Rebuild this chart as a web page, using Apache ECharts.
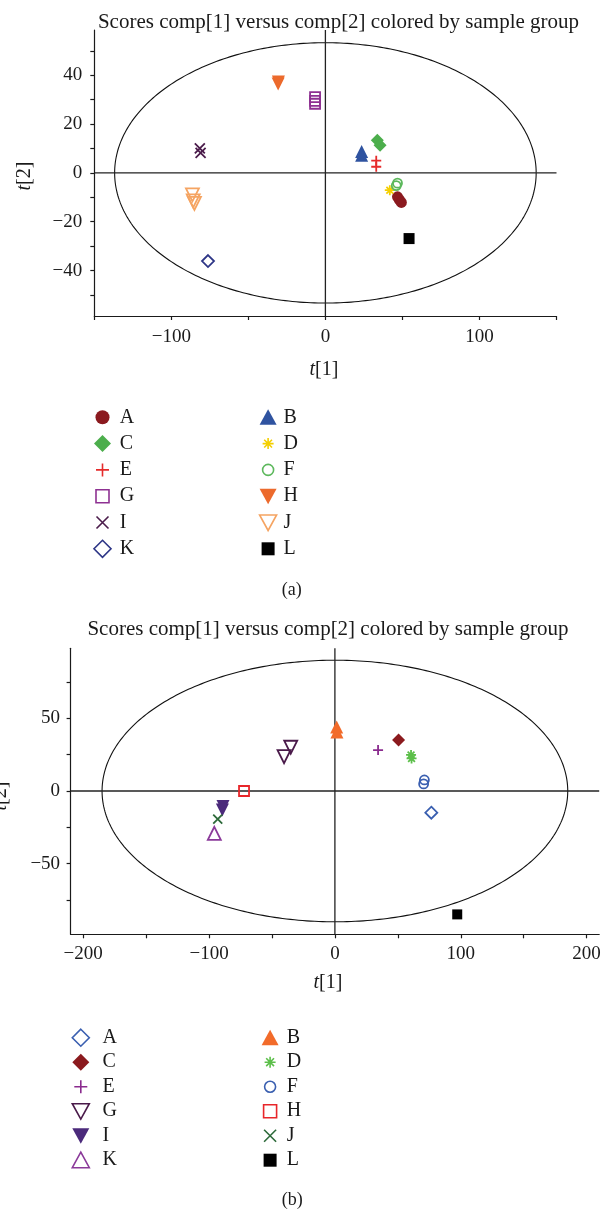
<!DOCTYPE html>
<html><head><meta charset="utf-8">
<script src="https://cdn.jsdelivr.net/npm/echarts@6/dist/echarts.min.js"></script>
<style>
html,body{margin:0;padding:0;background:#fff;width:605px;height:1211px;overflow:hidden;}
#ca{position:absolute;left:0;top:0;width:605px;height:605px;}
#cb{position:absolute;left:0;top:605px;width:605px;height:606px;}
</style>
</head><body>
<div id="ca"></div><div id="cb"></div>
<script>
// ---------- data ----------
const groups = ['A','B','C','D','E','F','G','H','I','J','K','L'];
const legendColLeft = ['A','C','E','G','I','K'];
const legendColRight = ['B','D','F','H','J','L'];
const titleText = 'Scores comp[1] versus comp[2] colored by sample group';

// panel (a): [t[1], t[2]]
const a_A = [[46.8,-9.8],[48.0,-11.0],[49.3,-12.1]];
const a_B = [[23.5,8.8],[23.5,7.2]];
const a_C = [[33.7,13.4],[35.5,11.3]];
const a_D = [[41.8,-7.1]];
const a_E = [[33.0,5.0],[33.0,2.5]];
const a_F = [[46.8,-4.2],[46.0,-5.2]];
const a_G = [[-6.7,31.0],[-6.7,29.5],[-6.7,28.3]];
const a_H = [[-30.7,36.4],[-30.5,37.2]];
const a_I = [[-81.5,10.0],[-81.0,8.2]];
const a_J = [[-86.3,-9.0],[-85.8,-11.5],[-85.0,-12.5]];
const a_K = [[-76.2,-36.1]];
const a_L = [[54.3,-26.9]];

// panel (b): [t[1], t[2]]
const b_A = [[76.6,-14.9]];
const b_B = [[1.4,44.0],[1.6,40.6]];
const b_C = [[50.6,35.1]];
const b_D = [[60.5,24.8],[60.9,22.4]];
const b_E = [[34.3,28.2]];
const b_F = [[71.1,7.6],[70.5,4.9]];
const b_G = [[-35.1,30.1],[-40.4,23.6]];
const b_H = [[-72.2,0.0]];
const b_I = [[-88.9,-10.6],[-89.4,-13.0]];
const b_J = [[-93.1,-19.3]];
const b_K = [[-95.8,-29.1]];
const b_L = [[97.2,-84.9]];

// axes
const a_xRange = [-150, 150];
const a_yRange = [-58.6, 58.5];
const a_xTicks = [-150,-100,-50,0,50,100,150];
const a_xLabels = [-100,0,100];
const a_yTicks = [-50,-40,-30,-20,-10,0,10,20,30,40,50];
const a_yLabels = [-40,-20,0,20,40];
const a_ellipse = [136.8, 53.3];

const b_xRange = [-210, 210];
const b_yRange = [-98.6, 98.2];
const b_xTicks = [-200,-150,-100,-50,0,50,100,150,200];
const b_xLabels = [-200,-100,0,100,200];
const b_yTicks = [-75,-50,-25,0,25,50,75];
const b_yLabels = [-50,0,50];
const b_ellipse = [185, 90];

const dataA = {A:a_A,B:a_B,C:a_C,D:a_D,E:a_E,F:a_F,G:a_G,H:a_H,I:a_I,J:a_J,K:a_K,L:a_L};
const dataB = {A:b_A,B:b_B,C:b_C,D:b_D,E:b_E,F:b_F,G:b_G,H:b_H,I:b_I,J:b_J,K:b_K,L:b_L};

// ---------- styles ----------
const SERIF = "'Liberation Serif','DejaVu Serif',serif";
const INK = '#1a1a1a';
const SYM = {
  circle: 'circle',
  triUp: 'triangle',
  triDown: 'path://M0,0L10,0L5,8.66Z',
  diamond: 'diamond',
  square: 'rect',
  plus: 'path://M5,0L5,10M0,5L10,5',
  cross: 'path://M0,0L10,10M10,0L0,10',
  star: 'path://M5,0L5,10M0,5L10,5M1.6,1.6L8.4,8.4M8.4,1.6L1.6,8.4'
};
// legend icons drawn in a 17x17 box (M0,0M17,17 fixes the box)
const BOX = 'path://M0,0M17,17';
const ICON = {
  circle14: BOX + 'M1.5,8.5A7,7,0,1,1,15.5,8.5A7,7,0,1,1,1.5,8.5Z',
  circle11: BOX + 'M3,8.5A5.5,5.5,0,1,1,14,8.5A5.5,5.5,0,1,1,3,8.5Z',
  triUp: BOX + 'M8.5,0.5L17,16L0,16Z',
  triDown: BOX + 'M0,1L17,1L8.5,16.5Z',
  diamond: BOX + 'M8.5,0L17,8.5L8.5,17L0,8.5Z',
  square: BOX + 'M2,2L15,2L15,15L2,15Z',
  plus: BOX + 'M8.5,2L8.5,15M2,8.5L15,8.5',
  cross: BOX + 'M2.5,2.5L14.5,14.5M14.5,2.5L2.5,14.5',
  star: BOX + 'M8.5,3L8.5,14M3,8.5L14,8.5M4.6,4.6L12.4,12.4M12.4,4.6L4.6,12.4'
};
const styleA = {
  A:{s:SYM.circle, z:11, c:'#8b1a1f', f:true, i:ICON.circle14},
  B:{s:SYM.triUp, z:13, c:'#2f53a0', f:true, i:ICON.triUp},
  C:{s:SYM.diamond, z:13, c:'#4cae4c', f:true, i:ICON.diamond},
  D:{s:SYM.star, z:10, c:'#f4cf00', f:false, i:ICON.star},
  E:{s:SYM.plus, z:10, c:'#e52b2b', f:false, i:ICON.plus},
  F:{s:SYM.circle, z:9, c:'#5cb85c', f:false, i:ICON.circle11},
  G:{s:SYM.square, z:10, c:'#8e3192', f:false, i:ICON.square},
  H:{s:SYM.triDown, z:13, c:'#ec6a2c', f:true, i:ICON.triDown},
  I:{s:SYM.cross, z:10, c:'#4b1c4b', f:false, i:ICON.cross},
  J:{s:SYM.triDown, z:13, c:'#f5a462', f:false, i:ICON.triDown},
  K:{s:SYM.diamond, z:12, c:'#2d3586', f:false, i:ICON.diamond},
  L:{s:SYM.square, z:11, c:'#000000', f:true, i:ICON.square}
};
const styleB = {
  A:{s:SYM.diamond, z:12, c:'#3a5fb0', f:false, i:ICON.diamond},
  B:{s:SYM.triUp, z:13, c:'#f26b2a', f:true, i:ICON.triUp},
  C:{s:SYM.diamond, z:13, c:'#8b1a1e', f:true, i:ICON.diamond},
  D:{s:SYM.star, z:10, c:'#5cbf4a', f:false, i:ICON.star},
  E:{s:SYM.plus, z:10, c:'#8a2b8e', f:false, i:ICON.plus},
  F:{s:SYM.circle, z:9, c:'#3a5fb0', f:false, i:ICON.circle11},
  G:{s:SYM.triDown, z:13, c:'#4a1a4a', f:false, i:ICON.triDown},
  H:{s:SYM.square, z:10, c:'#e8262a', f:false, i:ICON.square},
  I:{s:SYM.triDown, z:13, c:'#4b2a7b', f:true, i:ICON.triDown},
  J:{s:SYM.cross, z:9, c:'#2d6a3a', f:false, i:ICON.cross},
  K:{s:SYM.triUp, z:13, c:'#8b3a9a', f:false, i:ICON.triUp},
  L:{s:SYM.square, z:10, c:'#000000', f:true, i:ICON.square}
};

function fmt(v){ return v < 0 ? '\u2212' + Math.abs(v) : String(v); }

function axisCfg(range, ticks, labels, margin){
  return {
    type:'value', min:range[0], max:range[1],
    axisLine:{show:true, onZero:false, lineStyle:{color:INK, width:1.2}},
    axisTick:{show:true, customValues:ticks, length:4, inside:false, lineStyle:{color:INK, width:1.2}},
    axisLabel:{customValues:labels, formatter:fmt, margin:margin, color:INK, fontFamily:SERIF, fontSize:19},
    splitLine:{show:false}
  };
}

function scatterSeries(data, style){
  return groups.map(g => {
    const st = style[g];
    return {
      name:g, type:'scatter', data:data[g], symbol:st.s, symbolSize:st.z, z:3,
      itemStyle: st.f ? {color:st.c, borderColor:st.c, borderWidth:0, opacity:1}
                      : {color:'rgba(255,255,255,0)', borderColor:st.c, borderWidth:1.8, opacity:1},
      emphasis:{disabled:true}
    };
  });
}

function frameSeries(xr, yr, semi){
  return {
    type:'custom', silent:true, clip:false, z:1, data:[[0,0]],
    renderItem:(params, api) => {
      const pts = [];
      for (let k = 0; k <= 360; k++) {
        const t = k * Math.PI / 180;
        pts.push(api.coord([semi[0]*Math.cos(t), semi[1]*Math.sin(t)]));
      }
      const h1 = api.coord([xr[0],0]), h2 = api.coord([xr[1],0]);
      const v1 = api.coord([0,yr[0]]), v2 = api.coord([0,yr[1]]);
      return {type:'group', children:[
        {type:'polyline', shape:{points:pts}, style:{stroke:'#111', lineWidth:1.1, fill:null}},
        {type:'line', shape:{x1:h1[0],y1:h1[1],x2:h2[0],y2:h2[1]}, style:{stroke:'#222', lineWidth:1.3}},
        {type:'line', shape:{x1:v1[0],y1:v1[1],x2:v2[0],y2:v2[1]}, style:{stroke:'#222', lineWidth:1.3}}
      ]};
    }
  };
}

function legendItems(names, style){
  return names.map(n => ({name:n, icon:style[n].i, itemStyle:{borderWidth: style[n].f ? 0 : 1.6}}));
}

function legendCfg(names, style, left, top, gap, pad){
  return {
    orient:'vertical', left:left, top:top, padding:0,
    itemWidth:17, itemHeight:17, itemGap:gap, selectedMode:false,
    data:legendItems(names, style),
    textStyle:{fontFamily:SERIF, fontSize:20, color:INK, lineHeight:20, padding:[0,0,0,pad]}
  };
}

function text(x, y, str, size, extra){
  return Object.assign({type:'text', x:x, y:y, silent:true, style:{
    text:str, fontFamily:SERIF, fontSize:size, fill:INK, align:'center', verticalAlign:'middle',
    rich:{i:{fontStyle:'italic', fontFamily:SERIF, fontSize:size, fill:INK}}
  }}, extra||{});
}

// ---------- panel (a) ----------
const chartA = echarts.init(document.getElementById('ca'), null, {renderer:'canvas'});
chartA.setOption({
  animation:false,
  backgroundColor:'#fff',
  grid:{left:94.3, top:30, width:462.2, height:286, containLabel:false},
  xAxis:axisCfg(a_xRange, a_xTicks, a_xLabels, 12),
  yAxis:axisCfg(a_yRange, a_yTicks, a_yLabels, 12),
  legend:[
    legendCfg(legendColLeft, styleA, 93.2, 407.3, 6.3, 3.8),
    legendCfg(legendColRight, styleA, 258.8, 407.3, 6.3, 1.9)
  ],
  graphic:[
    text(338.5, 22, titleText, 21),
    text(324, 370, '{i|t}[1]', 20),
    text(25, 176, '{i|t}[2]', 20, {rotation:Math.PI/2}),
    text(291.7, 590, '(a)', 18)
  ],
  series:[frameSeries(a_xRange, a_yRange, a_ellipse)].concat(scatterSeries(dataA, styleA))
});

// ---------- panel (b) ----------
const chartB = echarts.init(document.getElementById('cb'), null, {renderer:'canvas'});
chartB.setOption({
  animation:false,
  backgroundColor:'#fff',
  grid:{left:70.6, top:43.3, width:528.6, height:286, containLabel:false},
  xAxis:axisCfg(b_xRange, b_xTicks, b_xLabels, 10),
  yAxis:axisCfg(b_yRange, b_yTicks, b_yLabels, 10.5),
  legend:[
    legendCfg(legendColLeft, styleB, 71.5, 422.7, 4.5, 8.2),
    legendCfg(legendColRight, styleB, 260.8, 422.7, 4.5, 3.2)
  ],
  graphic:[
    text(328, 24, titleText, 21),
    text(328, 378, '{i|t}[1]', 20),
    text(1, 191, '{i|t}[2]', 20, {rotation:Math.PI/2}),
    text(292.3, 595, '(b)', 18)
  ],
  series:[frameSeries(b_xRange, b_yRange, b_ellipse)].concat(scatterSeries(dataB, styleB))
});
</script>
</body></html>
